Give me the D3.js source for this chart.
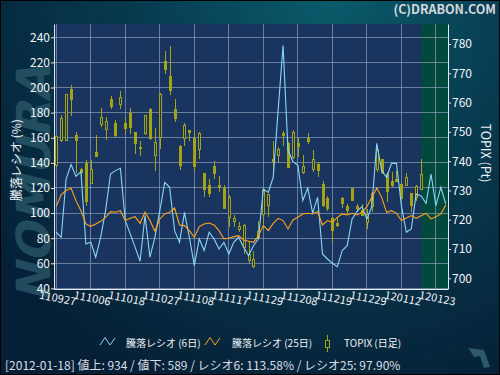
<!DOCTYPE html>
<html>
<head>
<meta charset="utf-8">
<script src="https://cdn.jsdelivr.net/npm/d3@7"></script>
<style>
body { margin: 0; background: #000; }
svg { display: block; }
text { font-family: "Noto Sans CJK JP", "DejaVu Sans", sans-serif; }
</style>
</head>
<body>
<div id="chart"></div>
<script>
// x axis labels (every 7 trading days)
var tickLabels = ["110927", "111006", "111018", "111027", "111108", "111117",
    "111129", "111208", "111219", "111229", "120112", "120123"];
var tickIndex = [0, 7, 14, 21, 28, 35, 42, 49, 56, 63, 70, 77];

// 騰落レシオ (6日), one value per day
var ratio6 = [84.7, 80.7, 127.1, 138.6, 129.3, 133.0, 75.4, 76.7, 64.8, 80.7,
    102.0, 131.1, 133.8, 135.6, 94.0, 83.4, 72.7, 61.6, 98.0, 64.8,
    80.7, 102.0, 124.5, 120.5, 86.0, 76.7, 100.6, 80.7, 58.1, 79.4,
    70.1, 84.7, 79.4, 71.4, 76.7, 67.4, 76.7, 80.7, 72.7, 66.1,
    74.0, 79.4, 119.2, 116.5, 128.5, 182.0, 233.5, 150.0, 141.0, 138.0,
    110.0, 120.0, 100.0, 112.5, 67.4, 63.4, 60.0, 57.3, 70.1, 74.0,
    95.3, 101.4, 105.1, 95.3, 105.1, 155.5, 133.8, 128.5, 139.6, 139.6,
    105.9, 84.7, 87.3, 115.2, 113.6, 107.7, 131.1, 105.9, 120.5, 107.2];

// 騰落レシオ (25日)
var ratio25 = [105.1, 114.7, 117.9, 119.7, 109.9, 101.9, 91.3, 89.4, 91.3, 93.4,
    96.6, 101.1, 100.6, 101.9, 94.0, 95.8, 97.1, 91.8, 100.6, 94.0,
    85.5, 95.3, 99.3, 100.6, 104.0, 90.5, 90.0, 86.0, 80.7, 89.2,
    91.3, 92.1, 90.5, 86.0, 79.4, 79.9, 81.2, 82.0, 78.6, 77.5,
    76.7, 82.0, 90.0, 86.0, 91.8, 95.8, 94.0, 87.3, 94.5, 96.6,
    99.3, 99.8, 99.3, 101.2, 90.5, 94.0, 92.6, 96.6, 99.3, 98.5,
    99.8, 98.5, 100.6, 105.1, 112.5, 120.0, 112.5, 100.6, 101.9, 99.8,
    94.0, 96.1, 98.0, 95.8, 97.9, 99.8, 95.3, 97.1, 99.3, 106.4];

// TOPIX daily candles
var topixOpen = [738.5, 747.0, 747.2, 764.3, 748.9, 737.3, 739.3, 732.5, 743.1, 752.5,
    750.8, 761.1, 753.0, 759.3, 752.7, 756.3, 749.8, 744.7, 749.3, 757.7,
    742.1, 748.1, 774.1, 768.9, 757.8, 745.1, 747.8, 750.5, 747.6, 744.0,
    735.8, 731.8, 738.2, 731.8, 730.8, 720.8, 719.3, 716.7, 710.4, 706.0,
    704.0, 714.0, 721.7, 724.8, 740.7, 741.9, 749.5, 745.9, 741.3, 745.9,
    736.0, 747.8, 737.3, 738.7, 732.2, 727.1, 720.5, 718.8, 727.1, 724.5,
    730.5, 724.5, 723.3, 719.1, 724.5, 737.3, 740.7, 735.3, 733.1, 733.9,
    732.2, 731.6, 728.8, 727.7, 730.3];
var topixHigh = [749.0, 755.9, 762.9, 766.0, 750.0, 737.7, 740.4, 740.4, 748.9, 758.2,
    755.0, 762.4, 754.1, 764.1, 755.0, 758.2, 749.8, 746.8, 755.8, 758.2,
    751.2, 763.2, 777.5, 779.3, 761.2, 745.6, 753.0, 750.5, 750.2, 749.8,
    735.8, 733.9, 740.2, 735.0, 731.9, 728.6, 721.6, 719.1, 718.6, 712.3,
    709.4, 719.7, 730.8, 728.8, 746.8, 745.0, 750.2, 746.4, 750.6, 747.9,
    742.1, 749.6, 743.8, 739.6, 733.3, 728.2, 720.8, 720.5, 727.9, 725.4,
    730.5, 725.4, 725.4, 723.7, 729.4, 744.7, 740.7, 736.2, 736.2, 736.8,
    732.4, 736.0, 728.8, 732.0, 740.7];
var topixLow = [738.0, 746.7, 747.0, 755.5, 735.8, 735.0, 724.8, 732.2, 741.5, 751.6,
    747.2, 757.8, 748.1, 757.8, 749.3, 749.3, 742.4, 741.9, 749.0, 747.2,
    736.5, 744.2, 769.8, 762.6, 753.3, 737.0, 745.3, 747.0, 736.8, 740.7,
    727.7, 727.7, 733.9, 729.4, 723.7, 717.6, 717.6, 715.7, 708.3, 705.1,
    703.5, 714.0, 718.5, 721.1, 735.0, 739.4, 745.3, 737.7, 740.7, 741.3,
    735.6, 745.9, 736.2, 734.7, 724.5, 722.9, 712.1, 717.6, 723.9, 722.0,
    726.5, 722.8, 721.2, 716.8, 722.5, 736.2, 735.6, 725.9, 731.1, 732.8,
    727.1, 731.4, 722.5, 726.3, 730.3];
var topixClose = [748.4, 754.4, 762.6, 760.9, 747.0, 736.0, 726.2, 737.0, 741.5, 755.0,
    753.6, 758.6, 748.7, 761.8, 751.0, 751.6, 746.1, 744.4, 755.5, 747.6,
    746.4, 762.9, 771.2, 764.1, 754.4, 738.5, 752.1, 749.7, 738.1, 749.5,
    730.2, 729.0, 735.8, 731.1, 724.0, 727.7, 720.3, 717.6, 717.9, 708.3,
    706.5, 715.9, 729.9, 728.5, 739.8, 744.0, 748.9, 737.7, 749.8, 745.0,
    738.2, 746.8, 740.7, 736.8, 724.8, 723.7, 716.3, 718.0, 725.6, 723.1,
    726.5, 723.7, 721.4, 721.7, 728.8, 743.8, 736.2, 729.7, 731.8, 733.1,
    727.1, 734.5, 725.0, 731.4, 735.3];

var leftTicks = [40, 60, 80, 100, 120, 140, 160, 180, 200, 220, 240];
var rightTicks = [700, 710, 720, 730, 740, 750, 760, 770, 780];
var lastIndex = 74; // 2012-01-18
var statusText = "[2012-01-18] 値上: 934 / 値下: 589 / レシオ6: 113.58% / レシオ25: 97.90%";

var W = 500, H = 375;
var plot = {left: 54, right: 448, top: 24, bottom: 289};

var svg = d3.select("#chart")
    .append("svg")
    .attr("width", W)
    .attr("height", H);

var defs = svg.append("defs");
var bg = defs.append("radialGradient")
    .attr("id", "bg")
    .attr("gradientUnits", "userSpaceOnUse")
    .attr("cx", 330).attr("cy", 0).attr("r", 420);
bg.append("stop").attr("offset", "0%").attr("stop-color", "#0a5b6b");
bg.append("stop").attr("offset", "45%").attr("stop-color", "#073b50");
bg.append("stop").attr("offset", "100%").attr("stop-color", "#052036");

svg.append("rect")
    .attr("x", 0.5).attr("y", 0.5)
    .attr("width", W - 1).attr("height", H - 1)
    .attr("fill", "url(#bg)")
    .attr("stroke", "#000");

// watermark on the left
svg.append("text")
    .attr("transform", "translate(50,184) rotate(-90) skewX(-14)")
    .attr("text-anchor", "middle")
    .style("font-family", "'DejaVu Sans', sans-serif")
    .style("font-weight", "bold")
    .style("font-size", "47px")
    .attr("fill", "#2c5a6b")
    .attr("opacity", 0.75)
    .text("NOMURA");

// small logo bottom right
svg.append("path")
    .attr("d", "M468,348 L484,350 L490,367 L484,368 L480,356 L474,357 L471,352 Z")
    .attr("fill", "#2e5a6c");

// copyright
svg.append("text")
    .attr("x", 496).attr("y", 14)
    .attr("text-anchor", "end")
    .style("font-weight", "bold")
    .style("font-size", "12.5px")
    .attr("fill", "#d4d8dc")
    .text("(C)DRABON.COM");

// scales
var x = d3.scaleLinear().domain([-0.46, 79.45]).range([plot.left, plot.right]);
var yL = d3.scaleLinear().domain([39.5, 250.6]).range([plot.bottom, plot.top]);
var yR = d3.scaleLinear().domain([696.35, 786.83]).range([plot.bottom, plot.top]);

// plot background + highlighted latest part
svg.append("rect")
    .attr("x", plot.left).attr("y", plot.top)
    .attr("width", plot.right - plot.left).attr("height", plot.bottom - plot.top)
    .attr("fill", "#1a3460");
svg.append("rect")
    .attr("x", x(lastIndex - 0.03)).attr("y", plot.top)
    .attr("width", plot.right - x(lastIndex - 0.03)).attr("height", plot.bottom - plot.top)
    .attr("fill", "#01493c");

// grid
var grid = svg.append("g")
    .attr("stroke", "#8c9cb8")
    .attr("stroke-opacity", 0.7)
    .attr("shape-rendering", "crispEdges");
grid.selectAll(".hg").data(leftTicks).enter().append("line")
    .attr("x1", plot.left).attr("x2", plot.right)
    .attr("y1", function(d) { return yL(d); })
    .attr("y2", function(d) { return yL(d); });
grid.selectAll(".vg").data(tickIndex).enter().append("line")
    .attr("y1", plot.top).attr("y2", plot.bottom)
    .attr("x1", function(d) { return x(d); })
    .attr("x2", function(d) { return x(d); });

// candles
var candleColor = "#a3a315";
var candles = svg.append("g").attr("shape-rendering", "crispEdges");
var cdata = topixOpen.map(function(o, i) {
    return {i: i, o: o, h: topixHigh[i], l: topixLow[i], c: topixClose[i]};
});
candles.selectAll("line").data(cdata).enter().append("line")
    .attr("x1", function(d) { return Math.round(x(d.i)) + 0.5; })
    .attr("x2", function(d) { return Math.round(x(d.i)) + 0.5; })
    .attr("y1", function(d) { return yR(d.h); })
    .attr("y2", function(d) { return yR(d.l); })
    .attr("stroke", candleColor);
candles.selectAll("rect").data(cdata).enter().append("rect")
    .attr("x", function(d) { return Math.round(x(d.i)) - 0.5; })
    .attr("width", 2)
    .attr("y", function(d) { return yR(Math.max(d.o, d.c)); })
    .attr("height", function(d) { return Math.max(1, Math.abs(yR(d.o) - yR(d.c))); })
    .attr("fill", function(d) { return d.c < d.o ? candleColor : "#1a3460"; })
    .attr("stroke", candleColor);

// ratio lines
var lineL = d3.line()
    .x(function(d, i) { return x(i); })
    .y(function(d) { return yL(d); });
svg.append("path")
    .datum(ratio6)
    .attr("d", lineL)
    .attr("fill", "none")
    .attr("stroke", "#8ad6f4")
    .attr("stroke-width", 1.1);
svg.append("path")
    .datum(ratio25)
    .attr("d", lineL)
    .attr("fill", "none")
    .attr("stroke", "#ffa516")
    .attr("stroke-width", 1.1);

// axes
var axisColor = "#e4e8f0";
var leftAxis = svg.append("g")
    .attr("transform", "translate(" + plot.left + ",0)")
    .call(d3.axisLeft(yL).tickValues(leftTicks).tickSize(3).tickSizeOuter(0).tickPadding(1));
var rightAxis = svg.append("g")
    .attr("transform", "translate(" + plot.right + ",0)")
    .call(d3.axisRight(yR).tickValues(rightTicks).tickSize(3).tickSizeOuter(0).tickPadding(1));
var bottomAxis = svg.append("g")
    .attr("transform", "translate(0," + plot.bottom + ")")
    .call(d3.axisBottom(x).tickValues(tickIndex)
        .tickFormat(function(d, i) { return tickLabels[i]; })
        .tickSize(0).tickSizeOuter(0));
[leftAxis, rightAxis, bottomAxis].forEach(function(a) {
    a.selectAll("path, line").attr("stroke", axisColor);
    a.selectAll("text")
        .attr("fill", "#f2f4f8")
        .style("font-family", "'Noto Sans CJK JP', 'DejaVu Sans', sans-serif")
        .style("font-size", "12px");
});
bottomAxis.select(".domain").attr("d", "M" + plot.left + ",0.5H" + plot.right);
bottomAxis.selectAll("text")
    .attr("text-anchor", "start")
    .attr("x", 0).attr("y", 0).attr("dy", 0)
    .attr("transform", "translate(-18,9.5) rotate(11)")
    .style("font-size", "11px")
    .style("letter-spacing", "0.1px");

// axis titles
svg.append("text")
    .attr("transform", "translate(21,160) rotate(-90)")
    .attr("text-anchor", "middle")
    .style("font-size", "12px")
    .attr("fill", "#eef2f6")
    .text("騰落レシオ (%)");
svg.append("text")
    .attr("transform", "translate(481,153) rotate(90)")
    .attr("text-anchor", "middle")
    .style("font-size", "12.5px")
    .attr("fill", "#eef2f6")
    .text("TOPIX (Pt)");

// legend
var legend = svg.append("g").style("font-size", "10px").attr("fill", "#eef2f6");
legend.append("path")
    .attr("d", "M100,345 L105,337.5 L110,345 L115,338")
    .attr("fill", "none").attr("stroke", "#8ad6f4");
legend.append("text").attr("x", 126).attr("y", 347).text("騰落レシオ (6日)");
legend.append("path")
    .attr("d", "M205,345 L210,337.5 L215,345 L220,338")
    .attr("fill", "none").attr("stroke", "#ffa516");
legend.append("text").attr("x", 232).attr("y", 347).text("騰落レシオ (25日)");
legend.append("line")
    .attr("x1", 327.5).attr("x2", 327.5).attr("y1", 335).attr("y2", 352)
    .attr("stroke", candleColor);
legend.append("rect")
    .attr("x", 325.5).attr("y", 340.5).attr("width", 4).attr("height", 7)
    .attr("fill", "#062a40").attr("stroke", candleColor);
legend.append("text").attr("x", 344).attr("y", 347).text("TOPIX (日足)");

// status line
svg.append("text")
    .attr("x", 5).attr("y", 370)
    .style("font-size", "12px")
    .attr("fill", "#d8dee6")
    .text(statusText);
</script>
</body>
</html>
